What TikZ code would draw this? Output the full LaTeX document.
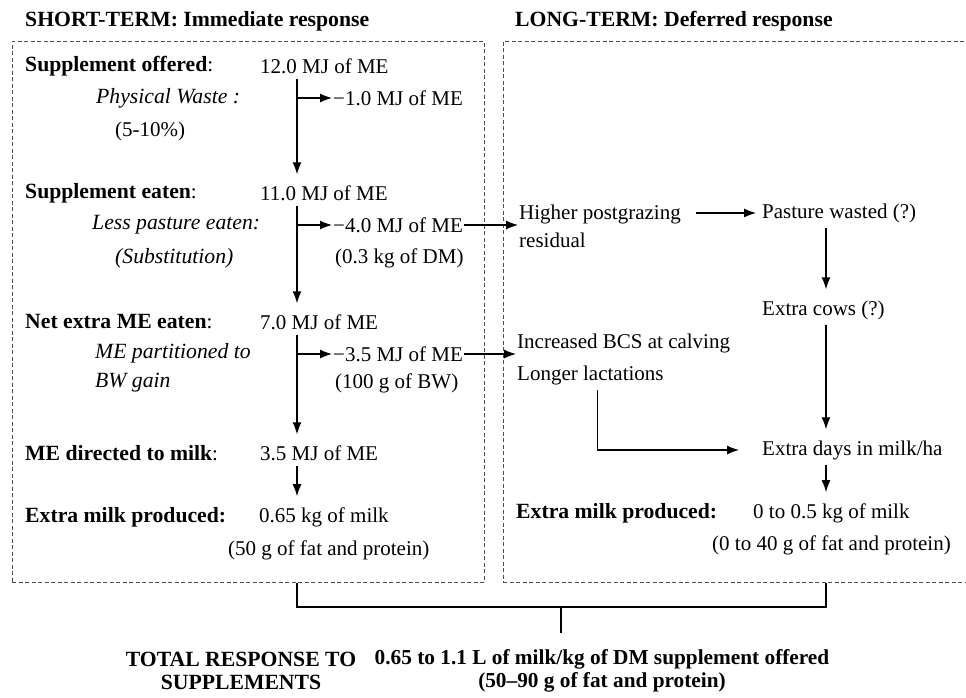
\documentclass[tikz,border=0pt]{standalone}
\usepackage{fontspec}
\setmainfont{Liberation Serif}
\usepackage{tikz}
\usetikzlibrary{arrows.meta}
\usetikzlibrary{positioning}
\newcommand{\lbf}{\bfseries\fontsize{21.7}{28}\selectfont}
\newcommand{\lit}{\itshape\fontsize{21.7}{29}\selectfont}

\begin{document}
\fontsize{21}{28}\selectfont
\begin{tikzpicture}[x=1pt, y=-1pt,
    txt/.style={inner xsep=1pt, inner ysep=5pt, anchor=west},
    lab/.style={txt, font=\lbf},
    note/.style={txt, font=\lit},
    box/.style={draw=black!70, line width=0.9pt, dash pattern=on 4pt off 2.5pt, anchor=north west, inner sep=0pt},
    arr/.style={-{Latex[length=12pt, width=9pt]}, line width=1.2pt},
    line/.style={line width=1.2pt}]
    \useasboundingbox (0,0) rectangle (966,697);

    % Frames and headings
    \node[box, minimum width=472pt, minimum height=541pt] (shortbox) at (12,41) {};
    \node[box, minimum width=480pt, minimum height=541pt] (longbox) at (503,41) {};
    \node[lab] (shorttitle) at (24,21) {SHORT-TERM: Immediate response};
    \node[lab] (longtitle) at (514,21) {LONG-TERM: Deferred response};

    % Short-term nodes
    \node[txt] (offlab) at (24,66) {{\lbf Supplement offered}:};
    \node[txt] (offval) at (259,66) {12.0 MJ of ME};
    \node[note] (wastelab) at (95,98) {Physical Waste :};
    \node[txt] (wasteval) at (332,98) {−1.0 MJ of ME};
    \node[txt] (wastepct) at (114,131) {(5-10\%)};

    \node[txt] (eatlab) at (24,193) {{\lbf Supplement eaten}:};
    \node[txt] (eatval) at (259,193) {11.0 MJ of ME};
    \node[note] (sublab) at (91,225) {Less pasture eaten:};
    \node[txt] (subval) at (332,225) {−4.0 MJ of ME};
    \node[note] (subpar) at (114,258) {(Substitution)};
    \node[txt] (subdm) at (334,258) {(0.3 kg of DM)};

    \node[txt] (netlab) at (24,322) {{\lbf Net extra ME eaten}:};
    \node[txt] (netval) at (259,322) {7.0 MJ of ME};
    \node[note, align=left] (bwlab) at (94,368) {ME partitioned to\\BW gain};
    \node[txt] (bwval) at (332,354) {−3.5 MJ of ME};
    \node[txt] (bwg) at (334,383) {(100 g of BW)};

    \node[txt] (milklab) at (24,453) {{\lbf ME directed to milk}:};
    \node[txt] (milkval) at (259,453) {3.5 MJ of ME};

    \node[lab] (prodlab) at (24,517) {Extra milk produced:};
    \node[txt] (prodval) at (258,517) {0.65 kg of milk};
    \node[txt] (prodfp) at (227,550) {(50 g of fat and protein)};

    % Long-term nodes
    \node[txt, align=left] (higher) at (518,226) {Higher postgrazing\\residual};
    \node[txt] (pasture) at (761,213) {Pasture wasted (?)};
    \node[txt] (cows) at (761,310) {Extra cows (?)};
    \node[txt] (bcs) at (516,343) {Increased BCS at calving};
    \node[txt] (longer) at (516,375) {Longer lactations};
    \node[txt] (days) at (761,450) {Extra days in milk/ha};
    \node[lab] (ltlab) at (515,513) {Extra milk produced:};
    \node[txt] (ltval) at (752,513) {0 to 0.5 kg of milk};
    \node[txt] (ltfp) at (711,545) {(0 to 40 g of fat and protein)};

    % Total
    \node[lab, anchor=center, align=center, font=\bfseries\fontsize{21.7}{23}\selectfont] (totlab) at (241,671) {TOTAL RESPONSE TO\\SUPPLEMENTS};
    \node[lab, anchor=center, align=center, font=\bfseries\fontsize{21.3}{23}\selectfont] (totval) at (602,671) {0.65 to 1.1 L of milk/kg of DM supplement offered\\(50–90 g of fat and protein)};

    \coordinate (trunk) at (297,0);
    \coordinate (trunkB) at (826,0);
    \coordinate (join) at (561,607);
    \coordinate (tick) at (561,633);

    % Connect nodes with arrows
    \draw[arr] (offval.south -| trunk) -- ([yshift=6pt]eatval.north -| trunk);
    \draw[arr] (eatval.south -| trunk) -- ([yshift=6pt]netval.north -| trunk);
    \draw[arr] (netval.south -| trunk) -- ([yshift=6pt]milkval.north -| trunk);
    \draw[arr] (milkval.south -| trunk) -- ([yshift=6pt]prodval.north -| trunk);

    \draw[arr] (wasteval.west -| trunk) -- (wasteval.west);
    \draw[arr] (subval.west -| trunk) -- (subval.west);
    \draw[arr] (bwval.west -| trunk) -- (bwval.west);

    \draw[arr] (subval.east) -- (subval.east -| higher.west);
    \draw[arr] (bwval.east) -- (bwval.east -| bcs.west);

    \draw[arr, shorten <=14pt, shorten >=5pt] (higher.east |- pasture.west) -- (pasture.west);
    \draw[arr] (pasture.south -| trunkB) -- ([yshift=6pt]cows.north -| trunkB);
    \draw[arr] (cows.south -| trunkB) -- ([yshift=6pt]days.north -| trunkB);
    \draw[arr] (days.south -| trunkB) -- ([yshift=6pt]ltval.north -| trunkB);
    \draw[arr, shorten >=22pt] ([xshift=7pt]longer.south) |- (days.west);

    % Bracket to the total
    \draw[line] (shortbox.south -| trunk) |- (join) -| (longbox.south -| trunkB);
    \draw[line] (join) -- (tick);
\end{tikzpicture}
\end{document}
